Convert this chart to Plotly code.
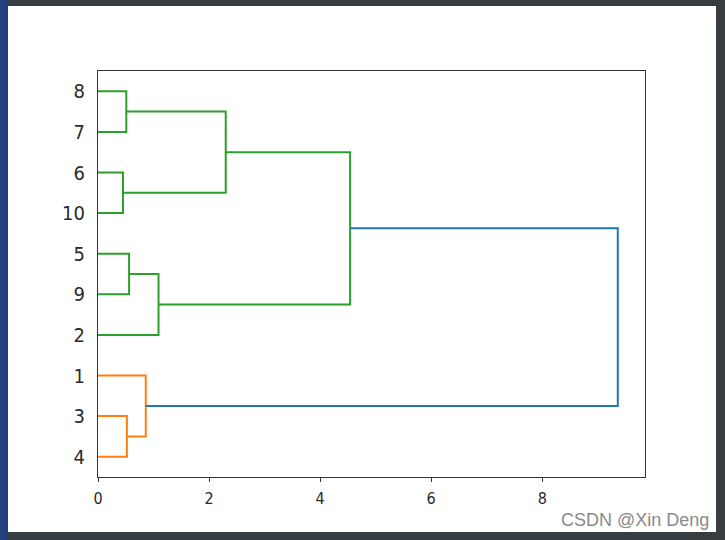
import plotly.graph_objects as go

# Leaf labels, bottom to top (dendrogram order)
leaf_labels = ["4", "3", "1", "2", "9", "5", "10", "6", "7", "8"]

# Merges: children and merge distance
merge_names = ["m1", "m2", "m3", "m4", "m5", "m6", "m7", "m8", "m9"]
merge_first = ["3", "1", "5", "m3", "6", "8", "m6", "m7", "m8"]
merge_second = ["4", "m1", "9", "2", "10", "7", "m5", "m4", "m2"]
merge_height = [0.52, 0.86, 0.56, 1.09, 0.45, 0.51, 2.30, 4.54, 9.36]
merge_color = ["#ff7f0e", "#ff7f0e", "#2ca02c", "#2ca02c", "#2ca02c",
               "#2ca02c", "#2ca02c", "#2ca02c", "#1f77b4"]

x_ticks = [0, 2, 4, 6, 8]

# positions
pos = {lab: 5 + 10 * i for i, lab in enumerate(leaf_labels)}
hgt = {lab: 0.0 for lab in leaf_labels}

fig = go.Figure()
for name, a, b, h, c in zip(merge_names, merge_first, merge_second, merge_height, merge_color):
    ya, yb = pos[a], pos[b]
    fig.add_trace(go.Scatter(
        x=[hgt[a], h, h, hgt[b]], y=[ya, ya, yb, yb],
        mode="lines", line=dict(color=c, width=2), hoverinfo="skip", showlegend=False))
    pos[name] = (ya + yb) / 2
    hgt[name] = h

W, H = 725, 540
ml, mr, mt, mb = 98, 80, 71, 63
pw, ph = W - ml - mr, H - mt - mb

def px(xp):
    return (xp - ml) / pw

def py(yp):
    return (H - mb - yp) / ph

shapes = [
    dict(type="rect", xref="paper", yref="paper", x0=px(8), x1=px(716), y0=py(532), y1=py(6),
         fillcolor="white", line=dict(width=0), layer="below"),
    dict(type="rect", xref="paper", yref="paper", x0=px(0), x1=px(7), y0=py(540), y1=py(0),
         fillcolor="#23407e", line=dict(width=0), layer="below"),
]

narrow = "Liberation Sans Narrow, DejaVu Sans Condensed, Liberation Sans"

fig.update_layout(
    width=W, height=H,
    margin=dict(l=ml, r=mr, t=mt, b=mb),
    paper_bgcolor="#383d42", plot_bgcolor="white",
    shapes=shapes,
    font=dict(family="DejaVu Sans", color="#2a2a2a"),
    xaxis=dict(range=[0, 9.85], tickvals=x_ticks, ticktext=[str(v) for v in x_ticks],
               showgrid=False, zeroline=False, showline=True, mirror=True,
               linecolor="#333333", linewidth=1.3, ticks="outside", ticklen=4,
               tickcolor="#333333", tickfont=dict(size=16, family=narrow),
               ticklabelstandoff=3),
    yaxis=dict(range=[0, 100], tickvals=[5 + 10 * i for i in range(len(leaf_labels))],
               ticktext=leaf_labels, showgrid=False, zeroline=False, showline=True,
               mirror=True, linecolor="#333333", linewidth=1.3, ticks="",
               tickfont=dict(size=20, family=narrow), ticklabelstandoff=8),
    annotations=[dict(text="CSDN @Xin Deng", xref="paper", yref="paper",
                      x=px(711), y=py(520), xanchor="right", yanchor="middle",
                      showarrow=False, font=dict(size=18, color="#8a8a8a",
                                                 family="Liberation Sans"))],
)

fig.write_html("out.html", config={"displayModeBar": False},
               post_script="document.body.style.margin='0';document.body.style.overflow='hidden';")
